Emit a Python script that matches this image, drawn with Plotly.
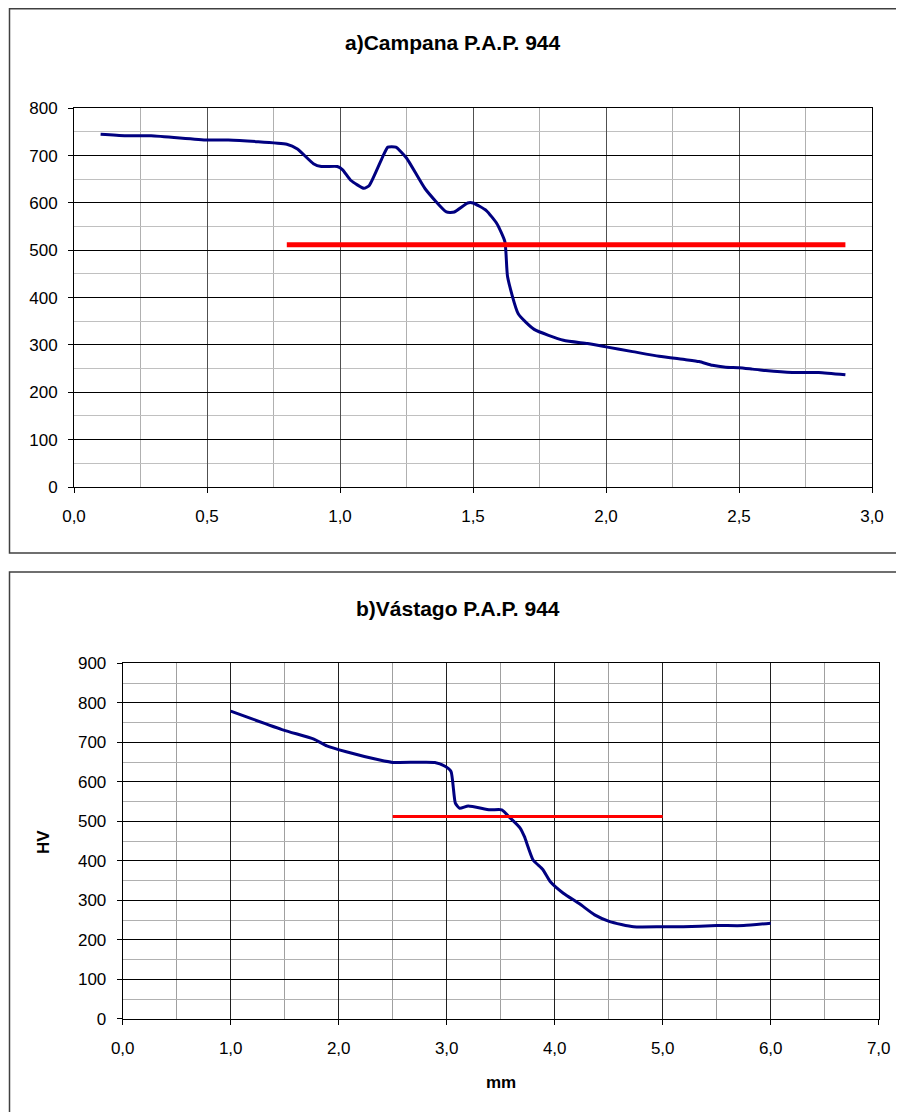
import plotly.graph_objects as go

# ---- data ----
campana_mm = [0.10, 0.19, 0.29, 0.50, 0.58, 0.80, 0.84, 0.90, 0.93, 0.99, 1.01, 1.04, 1.09, 1.11,
              1.16, 1.18, 1.21, 1.25, 1.32, 1.40, 1.43, 1.48, 1.50, 1.55, 1.59, 1.62, 1.63, 1.67,
              1.73, 1.84, 1.93, 2.00, 2.10, 2.20, 2.30, 2.35, 2.40, 2.45, 2.50, 2.55, 2.60, 2.70,
              2.80, 2.90]
campana_hv = [745, 742, 742, 733, 733, 724, 714, 683, 677, 677, 670, 648, 631, 637,
              697, 718, 718, 695, 630, 581, 581, 600, 600, 584, 556, 518, 444, 366,
              333, 310, 303, 296, 286, 276, 269, 265, 257, 253, 252, 249, 246, 242,
              242, 237]
campana_ref_mm = [0.80, 2.90]
campana_ref_hv = [512, 512]

vastago_mm = [1.00, 1.49, 1.77, 1.89, 2.07, 2.38, 2.50, 2.89, 2.98, 3.04, 3.08, 3.12, 3.20, 3.40,
              3.51, 3.59, 3.68, 3.72, 3.80, 3.89, 3.96, 4.08, 4.23, 4.37, 4.51, 4.73, 5.00, 5.19,
              5.50, 5.75, 6.00]
vastago_hv = [779, 731, 708, 691, 676, 655, 649, 649, 640, 626, 546, 533, 539, 529,
              529, 508, 483, 461, 402, 378, 347, 318, 291, 263, 246, 233, 233, 233,
              236, 236, 242]
vastago_ref_mm = [2.50, 5.00]
vastago_ref_hv = [512, 512]

title_a = "a)Campana P.A.P. 944"
title_b = "b)Vástago P.A.P. 944"

# the page body has an 8px margin: the figure is drawn 8px in from the window edge
OFF = 8
W, H = 904 - OFF, 1112 - OFF
FONT = "Liberation Sans, Arial, sans-serif"
NAVY = "#000080"
RED = "#ff0000"


def px(x):
    return (x - OFF) / W


def py(y):
    return 1 - (y - OFF) / H


fig = go.Figure()
fig.add_trace(go.Scatter(x=campana_mm, y=campana_hv, mode="lines",
                         line=dict(color=NAVY, width=3, shape="spline", smoothing=0.5),
                         xaxis="x", yaxis="y", showlegend=False))
fig.add_trace(go.Scatter(x=campana_ref_mm, y=campana_ref_hv, mode="lines",
                         line=dict(color=RED, width=5),
                         xaxis="x", yaxis="y", showlegend=False))
fig.add_trace(go.Scatter(x=vastago_mm, y=vastago_hv, mode="lines",
                         line=dict(color=NAVY, width=3, shape="spline", smoothing=0.5),
                         xaxis="x2", yaxis="y2", showlegend=False))
fig.add_trace(go.Scatter(x=vastago_ref_mm, y=vastago_ref_hv, mode="lines",
                         line=dict(color=RED, width=3),
                         xaxis="x2", yaxis="y2", showlegend=False))

tickfont = dict(family=FONT, size=17, color="#000000")

common_x = dict(showline=True, mirror=True, linecolor="#000000", linewidth=1,
                ticks="outside", ticklen=5, tickcolor="#000000", automargin=False,
                gridcolor="#505050", gridwidth=1, zeroline=False,
                tickformat=".1f", tickfont=tickfont, ticklabelstandoff=9)
common_y = dict(showline=True, mirror=True, linecolor="#000000", linewidth=1,
                ticks="outside", ticklen=5, tickcolor="#000000", automargin=False,
                gridcolor="#000000", gridwidth=1, zeroline=False,
                tickfont=tickfont, ticklabelstandoff=7)

fig.update_layout(
    width=W, height=H,
    margin=dict(l=0, r=0, t=0, b=0, autoexpand=False),
    paper_bgcolor="white", plot_bgcolor="white",
    separators=",.",
    xaxis=dict(common_x, domain=[px(74), px(872)], range=[0, 3], dtick=0.5,
               anchor="y",
               minor=dict(dtick=0.25, showgrid=True, gridcolor="#b0b0b0", gridwidth=1)),
    yaxis=dict(common_y, domain=[py(487), py(108.3)], range=[0, 800], dtick=100,
               anchor="x",
               minor=dict(dtick=50, showgrid=True, gridcolor="#c0c0c0", gridwidth=1)),
    xaxis2=dict(common_x, domain=[px(122.7), px(878.7)], range=[0, 7], dtick=1,
                anchor="y2", gridcolor="#202020",
                minor=dict(dtick=0.5, showgrid=True, gridcolor="#a0a0a0", gridwidth=1)),
    yaxis2=dict(common_y, domain=[py(1018.8), py(663.3)], range=[0, 900], dtick=100,
                anchor="x2",
                minor=dict(dtick=50, showgrid=True, gridcolor="#b0b0b0", gridwidth=1)),
    shapes=[
        dict(type="rect", xref="paper", yref="paper",
             x0=px(9.5), x1=px(903.5), y0=py(553), y1=py(8.7),
             line=dict(color="#404040", width=1.5), fillcolor="rgba(0,0,0,0)", layer="below"),
        dict(type="rect", xref="paper", yref="paper",
             x0=px(9.5), x1=px(903.5), y0=py(1116), y1=py(572),
             line=dict(color="#404040", width=1.5), fillcolor="rgba(0,0,0,0)", layer="below"),
    ],
    annotations=[
        dict(text="<b>%s</b>" % title_a, xref="paper", yref="paper", x=px(452), y=py(42),
             showarrow=False, xanchor="center", yanchor="middle",
             font=dict(family=FONT, size=21, color="#000000")),
        dict(text="<b>%s</b>" % title_b, xref="paper", yref="paper", x=px(458), y=py(608),
             showarrow=False, xanchor="center", yanchor="middle",
             font=dict(family=FONT, size=21, color="#000000")),
        dict(text="<b>HV</b>", xref="paper", yref="paper", x=px(43), y=py(842),
             showarrow=False, xanchor="center", yanchor="middle", textangle=-90,
             font=dict(family=FONT, size=17, color="#000000")),
        dict(text="<b>mm</b>", xref="paper", yref="paper", x=px(500.7), y=py(1082),
             showarrow=False, xanchor="center", yanchor="middle",
             font=dict(family=FONT, size=17, color="#000000")),
    ],
)

fig.write_html("out.html")
